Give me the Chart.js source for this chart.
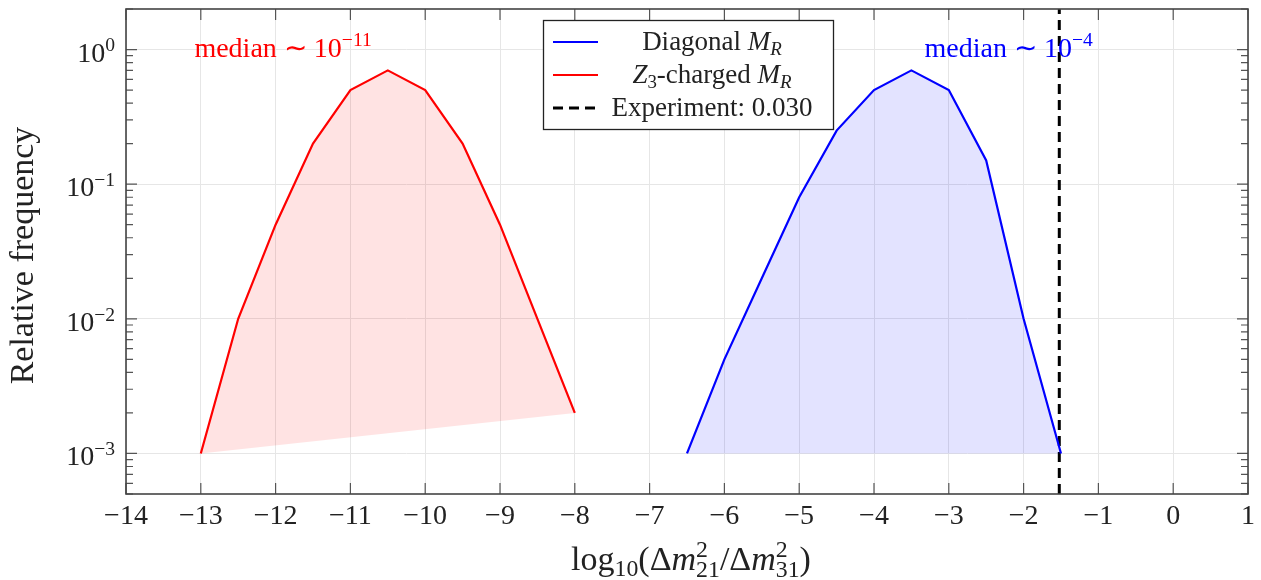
<!DOCTYPE html>
<html>
<head>
<meta charset="utf-8">
<script src="https://cdn.jsdelivr.net/npm/chart.js@4.4.1/dist/chart.umd.min.js"></script>
<style>
  html, body { margin: 0; padding: 0; background: #fff; }
  #wrap { width: 1261px; height: 580px; position: relative; }
</style>
</head>
<body>
<div id="wrap"><canvas id="distChart"></canvas></div>
<script>
// data
const redX = [-13, -12.5, -12, -11.5, -11, -10.5, -10, -9.5, -9, -8.5, -8];
const redY = [0.001, 0.01, 0.05, 0.2, 0.5, 0.7, 0.5, 0.2, 0.05, 0.01, 0.002];
const blueX = [-6.5, -6, -5.5, -5, -4.5, -4, -3.5, -3, -2.5, -2, -1.5];
const blueY = [0.001, 0.005, 0.02, 0.08, 0.25, 0.5, 0.7, 0.5, 0.15, 0.01, 0.001];
const experiment = 0.030;
const xRange = [-14, 1];
const yRange = [5e-4, 2];
const yTicks = [1e-3, 1e-2, 1e-1, 1];
const medianRed = { x: -11.9, y: 1, exp: '\u221211' };
const medianBlue = { x: -2.2, y: 1, exp: '\u22124' };

const SERIF = '"Liberation Serif", "Times New Roman", serif';
const toXY = (xs, ys) => xs.map((x, i) => ({ x: x, y: ys[i] }));

// small rich text helper: segments {t, it, sub, sup, stack:[sup, sub]}
function richFont(size, it) {
  return (it ? 'italic ' : '') + size + 'px ' + SERIF;
}
function segWidth(ctx, s, size) {
  const small = size * 0.7;
  if (s.stack) {
    ctx.font = richFont(small, false);
    return Math.max(ctx.measureText(s.stack[0]).width, ctx.measureText(s.stack[1]).width);
  }
  ctx.font = richFont((s.sub || s.sup) ? small : size, s.it);
  return ctx.measureText(s.t).width;
}
function drawRich(ctx, segs, x, y, size, color, align) {
  let total = 0;
  segs.forEach(s => { total += segWidth(ctx, s, size); });
  let cx = x;
  if (align === 'center') cx = x - total / 2;
  if (align === 'right') cx = x - total;
  ctx.save();
  ctx.fillStyle = color;
  ctx.textBaseline = 'alphabetic';
  ctx.textAlign = 'left';
  const small = size * 0.7;
  segs.forEach(s => {
    const w = segWidth(ctx, s, size);
    if (s.stack) {
      ctx.font = richFont(small, false);
      ctx.fillText(s.stack[0], cx, y - size * 0.38);
      ctx.fillText(s.stack[1], cx, y + size * 0.22);
    } else {
      ctx.font = richFont((s.sub || s.sup) ? small : size, s.it);
      let dy = 0;
      if (s.sup) dy = -size * 0.36;
      if (s.sub) dy = size * 0.18;
      ctx.fillText(s.t, cx, y + dy);
    }
    cx += w;
  });
  ctx.restore();
  return total;
}

const legendItems = [
  { color: '#0000ff', dash: [], width: 2.2, segs: [{ t: 'Diagonal ' }, { t: 'M', it: true }, { t: 'R', it: true, sub: true }] },
  { color: '#ff0000', dash: [], width: 2.2, segs: [{ t: 'Z', it: true }, { t: '3', sub: true }, { t: '-charged ' }, { t: 'M', it: true }, { t: 'R', it: true, sub: true }] },
  { color: '#000000', dash: [10, 6], width: 3, segs: [{ t: 'Experiment: 0.030' }] }
];

const decorations = {
  id: 'decorations',
  afterDatasetsDraw(chart) {
    const ctx = chart.ctx;
    const a = chart.chartArea;
    const xs = chart.scales.x, ys = chart.scales.y;

    // median labels
    drawRich(ctx, [{ t: 'median \u223c 10' }, { t: medianRed.exp, sup: true }],
      xs.getPixelForValue(medianRed.x), ys.getPixelForValue(medianRed.y) + 7, 28, '#ff0000', 'center');
    drawRich(ctx, [{ t: 'median \u223c 10' }, { t: medianBlue.exp, sup: true }],
      xs.getPixelForValue(medianBlue.x), ys.getPixelForValue(medianBlue.y) + 7, 28, '#0000ff', 'center');

    // tick marks, inside on all four sides
    ctx.save();
    ctx.strokeStyle = '#555';
    ctx.lineWidth = 1.2;
    ctx.beginPath();
    for (let v = xRange[0]; v <= xRange[1]; v++) {
      const px = xs.getPixelForValue(v);
      ctx.moveTo(px, a.bottom); ctx.lineTo(px, a.bottom - 11);
      ctx.moveTo(px, a.top); ctx.lineTo(px, a.top + 11);
    }
    for (let k = -4; k <= 0; k++) {
      for (let m = 1; m <= 9; m++) {
        const v = m * Math.pow(10, k);
        if (v < yRange[0] || v > yRange[1]) continue;
        const py = ys.getPixelForValue(v);
        const len = m === 1 ? 11 : 7;
        ctx.moveTo(a.left, py); ctx.lineTo(a.left + len, py);
        ctx.moveTo(a.right, py); ctx.lineTo(a.right - len, py);
      }
    }
    ctx.stroke();
    ctx.lineWidth = 1.6;
    ctx.strokeStyle = '#444';
    ctx.strokeRect(a.left, a.top, a.right - a.left, a.bottom - a.top);
    ctx.restore();

    // legend box
    const bx = 543.5, by = 20.5, bw = 290, bh = 109;
    ctx.save();
    ctx.fillStyle = '#fff';
    ctx.fillRect(bx, by, bw, bh);
    ctx.strokeStyle = '#222';
    ctx.lineWidth = 1.3;
    ctx.strokeRect(bx, by, bw, bh);
    legendItems.forEach((it, i) => {
      const ry = 42 + i * 33;
      ctx.beginPath();
      ctx.strokeStyle = it.color;
      ctx.lineWidth = it.width;
      ctx.setLineDash(it.dash);
      ctx.moveTo(553, ry); ctx.lineTo(598, ry);
      ctx.stroke();
      ctx.setLineDash([]);
      drawRich(ctx, it.segs, 712, ry + 8, 27, '#222', 'center');
    });
    ctx.restore();

    // y tick labels (10^k)
    ys.ticks.forEach(t => {
      const e = Math.round(Math.log10(t.value));
      const es = e < 0 ? '\u2212' + Math.abs(e) : String(e);
      drawRich(ctx, [{ t: '10' }, { t: es, sup: true }], 115, ys.getPixelForValue(t.value) + 12, 28, '#222', 'right');
    });

    // axis titles
    drawRich(ctx, [
      { t: 'log' }, { t: '10', sub: true }, { t: '(\u0394' }, { t: 'm', it: true }, { stack: ['2', '21'] },
      { t: '/\u0394' }, { t: 'm', it: true }, { stack: ['2', '31'] }, { t: ')' }
    ], (a.left + a.right) / 2 + 4, 570, 34, '#222', 'center');

    ctx.save();
    ctx.translate(33, (a.top + a.bottom) / 2 + 4);
    ctx.rotate(-Math.PI / 2);
    ctx.font = '34px ' + SERIF;
    ctx.fillStyle = '#222';
    ctx.textAlign = 'center';
    ctx.textBaseline = 'alphabetic';
    ctx.fillText('Relative frequency', 0, 0);
    ctx.restore();
  }
};

const ctx = document.getElementById('distChart').getContext('2d');
const distChart = new Chart(ctx, {
  type: 'line',
  data: {
    datasets: [
      {
        label: 'Diagonal M_R',
        data: toXY(blueX, blueY),
        borderColor: '#0000ff',
        backgroundColor: 'rgba(0, 0, 255, 0.11)',
        borderWidth: 2.2,
        pointRadius: 0,
        tension: 0,
        fill: 'shape'
      },
      {
        label: 'Z3-charged M_R',
        data: toXY(redX, redY),
        borderColor: '#ff0000',
        backgroundColor: 'rgba(255, 0, 0, 0.11)',
        borderWidth: 2.2,
        pointRadius: 0,
        tension: 0,
        fill: 'shape'
      },
      {
        label: 'Experiment: 0.030',
        data: [{ x: Math.log10(experiment), y: yRange[0] }, { x: Math.log10(experiment), y: yRange[1] }],
        borderColor: '#000',
        borderWidth: 3,
        borderDash: [10, 6],
        pointRadius: 0,
        fill: false
      }
    ]
  },
  options: {
    responsive: true,
    maintainAspectRatio: false,
    animation: false,
    layout: { padding: { top: 9, right: 11, bottom: 0, left: 0 } },
    scales: {
      x: {
        type: 'linear',
        min: xRange[0],
        max: xRange[1],
        ticks: {
          stepSize: 1,
          color: '#222',
          padding: 6,
          font: { family: SERIF, size: 28 },
          callback: v => (v < 0 ? '\u2212' + Math.abs(v) : String(v))
        },
        grid: { color: '#e6e6e6', drawTicks: false },
        border: { display: false },
        afterFit: s => { s.height = 86; }
      },
      y: {
        type: 'logarithmic',
        min: yRange[0],
        max: yRange[1],
        ticks: { display: false },
        afterBuildTicks: s => { s.ticks = yTicks.map(v => ({ value: v })); },
        grid: { color: '#e6e6e6', drawTicks: false },
        border: { display: false },
        afterFit: s => { s.width = 126; }
      }
    },
    plugins: {
      legend: { display: false },
      tooltip: { enabled: false }
    }
  },
  plugins: [decorations]
});
</script>
</body>
</html>
